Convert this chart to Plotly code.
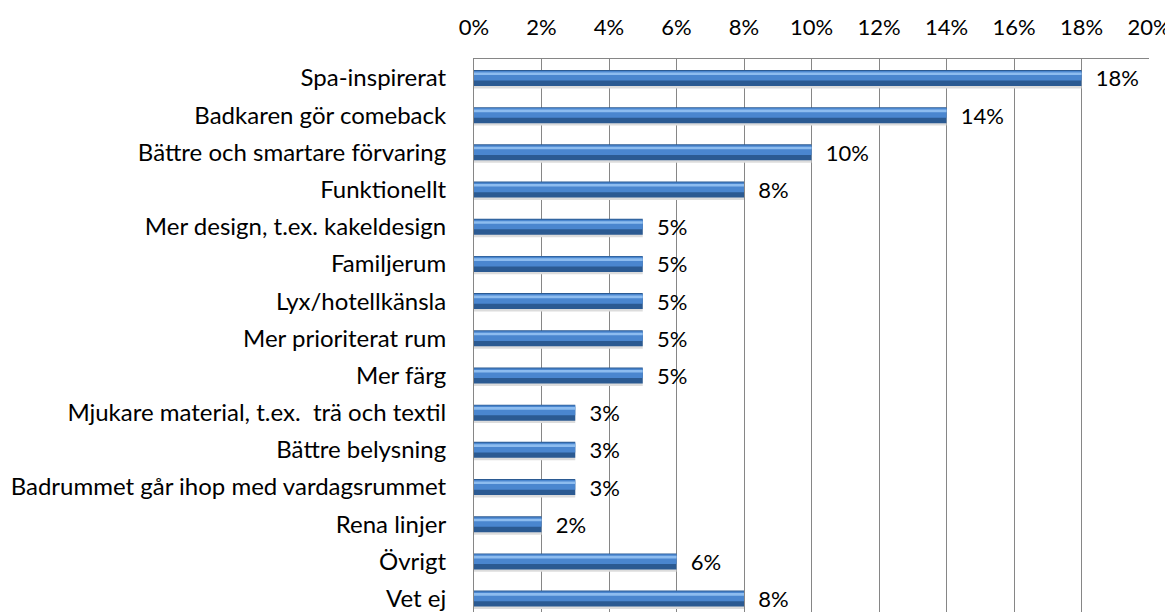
import plotly.graph_objects as go

categories = [
    "Spa-inspirerat",
    "Badkaren gör comeback",
    "Bättre och smartare förvaring",
    "Funktionellt",
    "Mer design, t.ex. kakeldesign",
    "Familjerum",
    "Lyx/hotellkänsla",
    "Mer prioriterat rum",
    "Mer färg",
    "Mjukare material, t.ex.  trä och textil",
    "Bättre belysning",
    "Badrummet går ihop med vardagsrummet",
    "Rena linjer",
    "Övrigt",
    "Vet ej",
]
values = [0.18, 0.14, 0.10, 0.08, 0.05, 0.05, 0.05, 0.05, 0.05, 0.03, 0.03, 0.03, 0.02, 0.06, 0.08]
tick_vals = [0, 0.02, 0.04, 0.06, 0.08, 0.10, 0.12, 0.14, 0.16, 0.18, 0.20]
tick_text = ["0%", "2%", "4%", "6%", "8%", "10%", "12%", "14%", "16%", "18%", "20%"]

FONT = "Lato"
fig = go.Figure()

# shadow
fig.add_trace(go.Bar(y=categories, x=values, orientation="h", width=0.43, offset=-0.15,
                     marker=dict(color="#dcdcdc", line=dict(width=0)), hoverinfo="skip"))
# base (dark) bar with labels
fig.add_trace(go.Bar(y=categories, x=values, orientation="h", width=0.43, offset=-0.215,
                     marker=dict(color="#2b5a92", line=dict(width=0)),
                     text=["  " + f"{v*100:.0f}%" for v in values], textposition="outside",
                     cliponaxis=False, constraintext="none",
                     textfont=dict(family=FONT, size=22, color="#000000")))
# mid tone
fig.add_trace(go.Bar(y=categories, x=values, orientation="h", width=0.26, offset=-0.19,
                     marker=dict(color="#4a86cf", line=dict(width=0)), hoverinfo="skip"))
# highlight
fig.add_trace(go.Bar(y=categories, x=values, orientation="h", width=0.07, offset=-0.15,
                     marker=dict(color="#8dbcef", line=dict(width=0)), hoverinfo="skip"))

fig.update_layout(
    width=1165, height=604,
    barmode="overlay",
    showlegend=False,
    plot_bgcolor="white", paper_bgcolor="white",
    margin=dict(l=466, r=24, t=51, b=0),
    font=dict(family=FONT, size=22, color="#000000"),
    xaxis=dict(side="top", range=[0, 0.20], tickvals=tick_vals, ticktext=tick_text,
               showgrid=True, gridcolor="#868686", gridwidth=1,
               showline=True, linecolor="#868686", mirror=False,
               ticks="", zeroline=False, ticklabelstandoff=14,
               tickfont=dict(family=FONT, size=22)),
    yaxis=dict(type="category", categoryorder="array", categoryarray=categories,
               range=[14.36, -0.51], showline=True, linecolor="#868686",
               showgrid=False, ticks="", ticklabelstandoff=22,
               tickfont=dict(family=FONT, size=24)),
)

fig.write_html("out.html")
